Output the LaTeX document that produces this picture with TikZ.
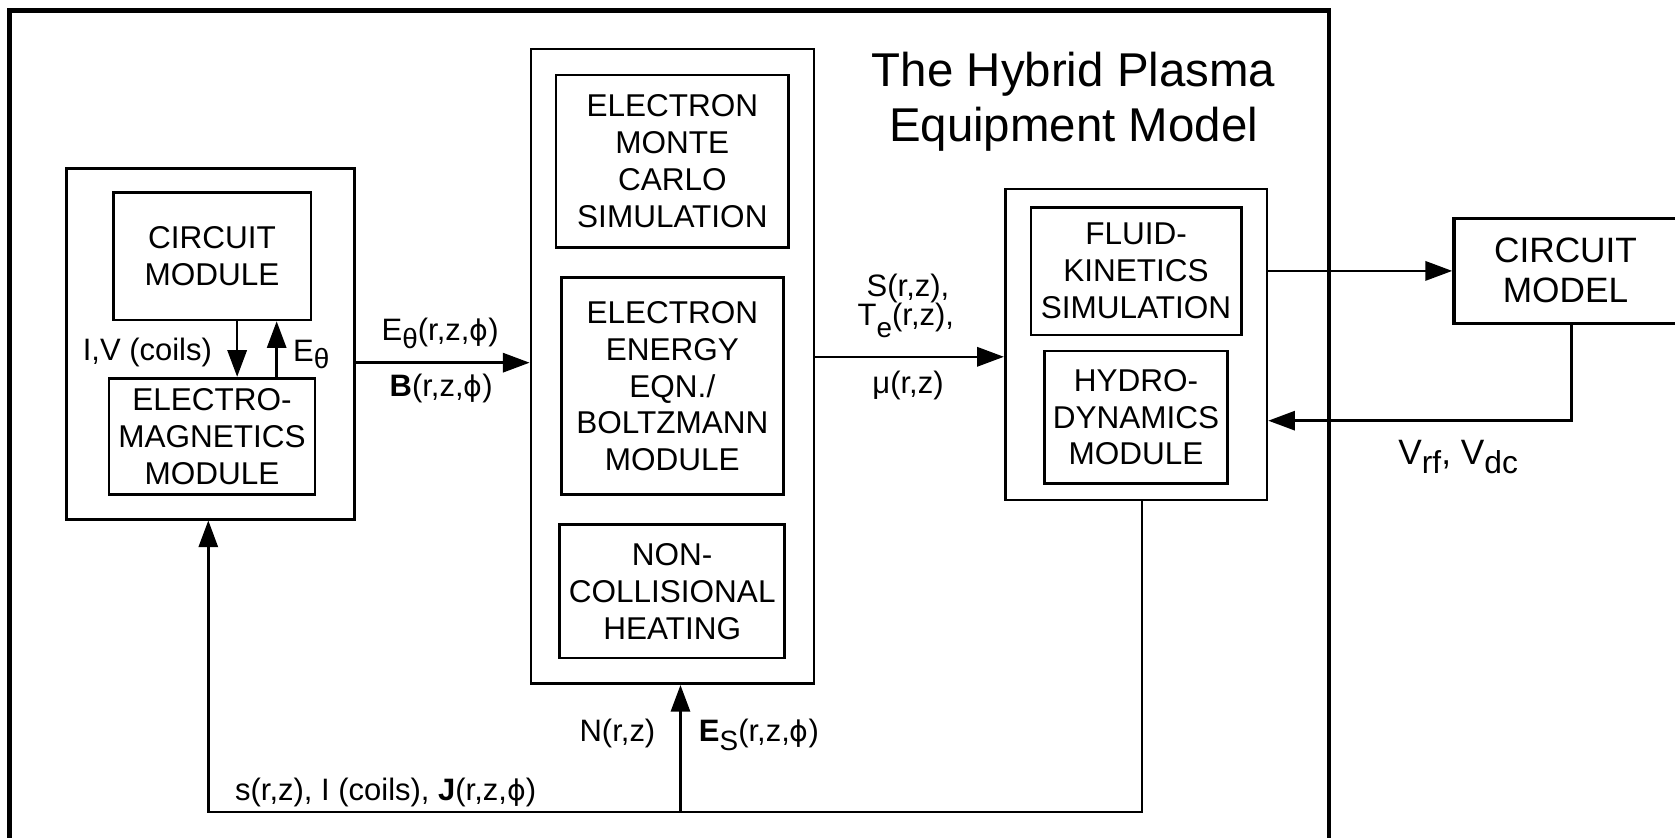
\documentclass[tikz,border=0pt]{standalone}
\usepackage{fontspec}
\setmainfont{Liberation Sans}
\newfontfamily\dvfont{DejaVu Sans}
\usetikzlibrary{arrows.meta}
\newcommand\lsub[2][0.3em]{\raisebox{-#1}{\scalebox{0.9}{#2}}}
\newcommand\sphi{{\dvfont\scalebox{0.92}{ϕ}}}
\begin{document}
\begin{tikzpicture}[x=0.5pt,y=-0.5pt, line join=miter,
  box/.style={draw, line width=1.25pt, inner sep=0pt, align=center, font=\fontsize{14.75}{17.3}\selectfont},
  lbl/.style={inner sep=0pt, anchor=base, font=\fontsize{14.5}{17}\selectfont},
  conn/.style={line width=1.15pt},
  arr/.style={conn, -{Triangle[length=12.5pt,width=9pt]}}]
\useasboundingbox (0,0) rectangle (1568,784);
% outer frame
\draw[line width=2.25pt] (9,800) -- (9,10) -- (1244,10) -- (1244,800);
% title
\node[lbl, font=\fontsize{22.2}{26}\selectfont] (t1) at (1005,81) {The Hybrid Plasma};
\node[lbl, font=\fontsize{22.2}{26}\selectfont] (t2) at (1005,132.6) {Equipment Model};
% left group
\node[box, minimum width=134.75pt, minimum height=164pt] (L) at (197,322) {};
\node[box, minimum width=92.5pt, minimum height=59.5pt] (CMOD) at (198.5,240) {CIRCUIT\\MODULE};
\node[box, minimum width=96.5pt, minimum height=54.5pt] (EM) at (198.5,408.5) {ELECTRO-\\MAGNETICS\\MODULE};
% middle group
\node[box, minimum width=132.5pt, minimum height=297pt] (M) at (629.5,343) {};
\node[box, minimum width=108.9pt, minimum height=80.75pt] (EMC) at (629.4,151) {ELECTRON\\MONTE\\CARLO\\SIMULATION};
\node[box, minimum width=103.8pt, minimum height=101.65pt] (EEE) at (629.4,361.5) {ELECTRON\\ENERGY\\EQN./\\BOLTZMANN\\MODULE};
\node[box, minimum width=105.25pt, minimum height=62.5pt] (NCH) at (629.25,553.5) {NON-\\COLLISIONAL\\HEATING};
% right group
\node[box, minimum width=122.5pt, minimum height=145.5pt] (R) at (1063.5,322.5) {};
\node[box, minimum width=98.5pt, minimum height=59.8pt] (FK) at (1063.5,253.8) {FLUID-\\KINETICS\\SIMULATION};
\node[box, minimum width=85.5pt, minimum height=62pt] (HD) at (1063.5,390.5) {HYDRO-\\DYNAMICS\\MODULE};
% circuit model
\node[box, line width=1.6pt, minimum width=104.5pt, minimum height=49.15pt, font=\fontsize{16.5}{18.7}\selectfont] (CM) at (1465.5,253.5) {CIRCUIT\\MODEL};
% connectors
\draw[arr] (CMOD.south -| 222,0) -- (EM.north -| 222,0);
\draw[arr] (EM.north -| 259,0) -- (CMOD.south -| 259,0);
\draw[arr] (L.east |- 0,339.5) -- (M.west |- 0,339.5);
\draw[arr] (M.east |- 0,334) -- (R.west |- 0,334);
\draw[arr] (R.east |- 0,253.6) -- (CM.west |- 0,253.6);
\draw[arr] (CM.south -| 1471,0) |- (R.east |- 0,393.8);
\coordinate (J) at (637,760);
\draw[arr] (R.south -| 1069,0) |- (J) -| (L.south -| 195,0);
\draw[arr] (J) -- (M.south -| J);
% labels
\node[lbl] (iv) at (138,337) {I,V (coils)};
\node[lbl, anchor=base west] (et) at (274,338) {E\lsub[0.25em]{θ}};
\node[lbl] (eb) at (412,319) {E\lsub[0.25em]{θ}(r,z,\sphi)};
\node[lbl] (bb) at (413,371) {\textbf{B}(r,z,\sphi)};
\node[lbl] (s1) at (850,277.7) {S(r,z),};
\node[lbl] (s2) at (848,304.3) {T\lsub[0.4em]{e}(r,z),};
\node[lbl] (s3) at (850,368) {μ(r,z)};
\node[lbl] (nn) at (578,694) {N(r,z)};
\node[lbl] (es) at (710.5,694) {\textbf{E}\lsub[0.3em]{S}(r,z,\sphi)};
\node[lbl] (sj) at (361,749) {s(r,z), I (coils), \textbf{J}(r,z,\sphi)};
\node[lbl, font=\fontsize{16.5}{19}\selectfont] (vv) at (1365,435) {V\lsub[0.25em]{rf}, V\lsub[0.25em]{dc}};
\end{tikzpicture}
\end{document}
